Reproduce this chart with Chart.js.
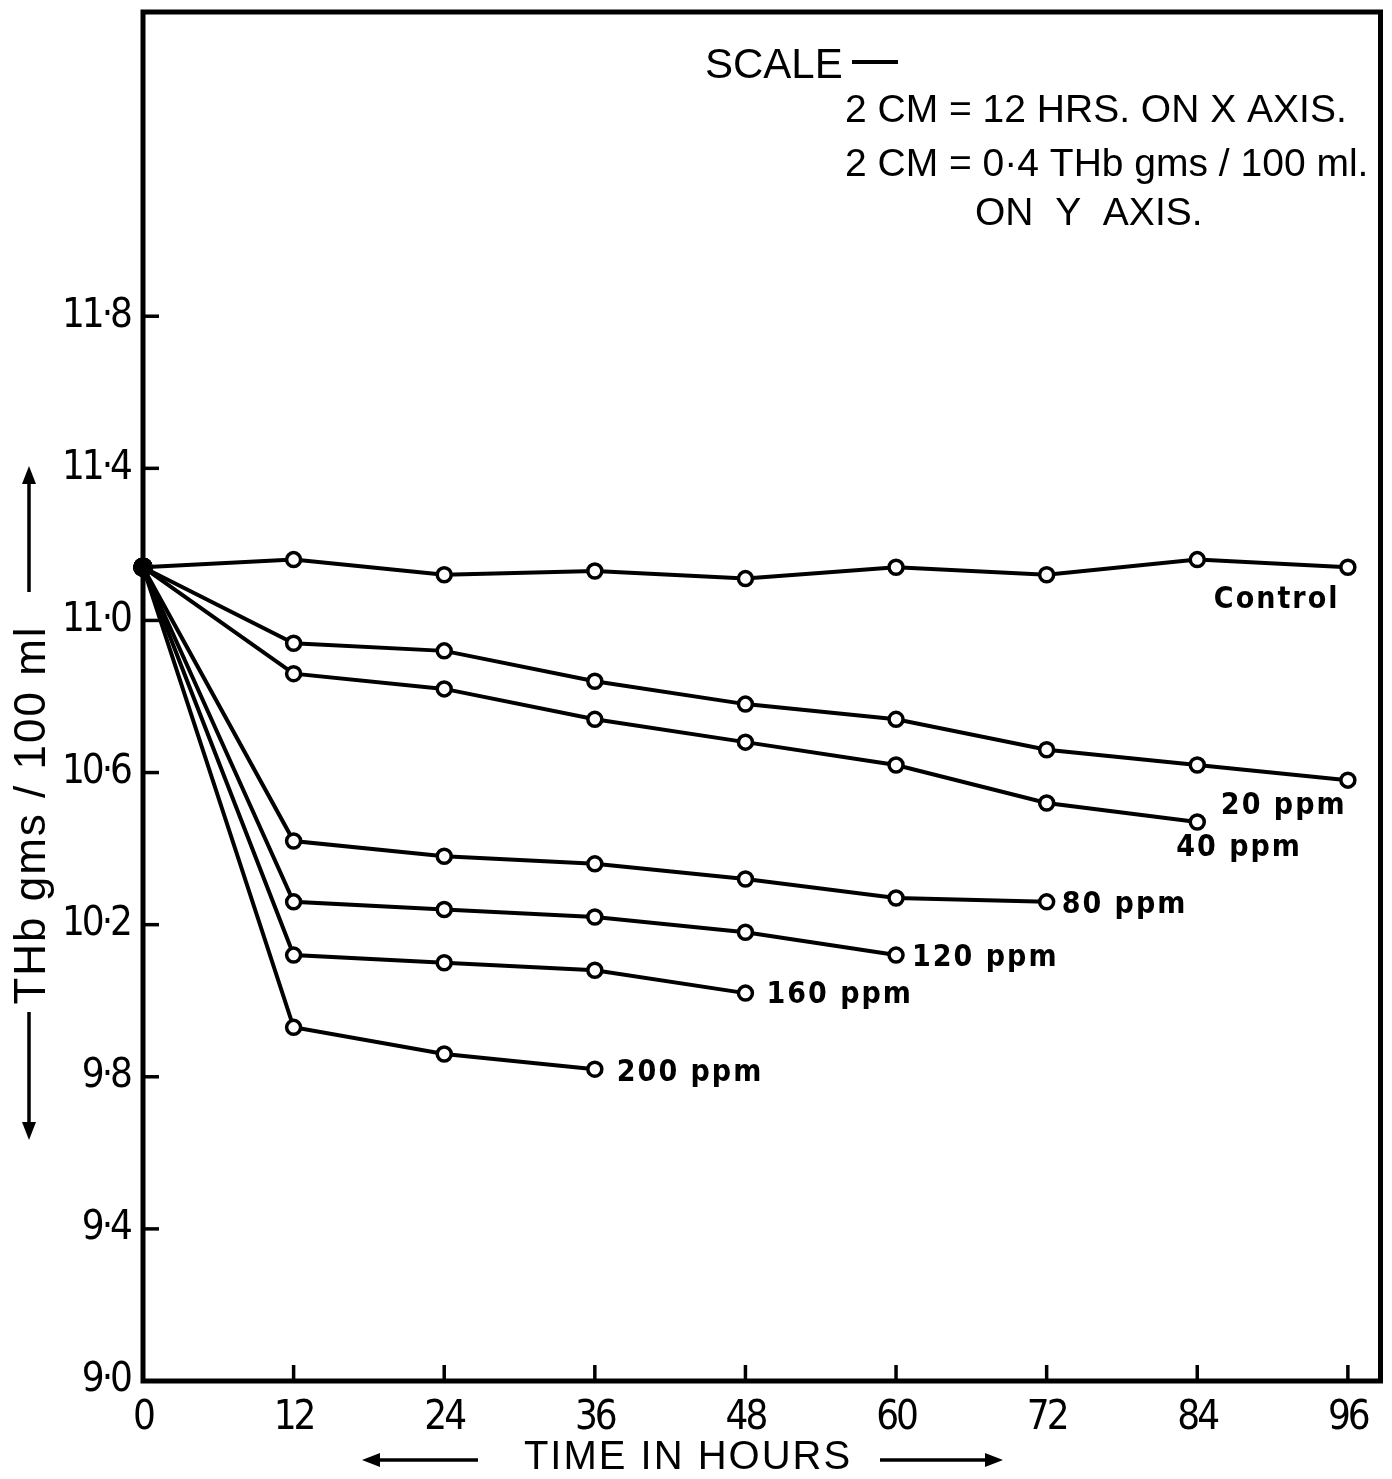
<!DOCTYPE html>
<html>
<head>
<meta charset="utf-8">
<script src="https://cdn.jsdelivr.net/npm/chart.js@4.4.1/dist/chart.umd.min.js"></script>
<style>
  html, body { margin: 0; padding: 0; background: #fff; }
  #wrap { width: 1392px; height: 1479px; }
</style>
</head>
<body>
<div id="wrap"><canvas id="chart" width="1392" height="1479"></canvas></div>
<script>
// time axis (hours)
const hours = [0, 12, 24, 36, 48, 60, 72, 84, 96];
const xTickValues = [0, 12, 24, 36, 48, 60, 72, 84, 96];
const xTickLabels = ['0', '12', '24', '36', '48', '60', '72', '84', '96'];
const yTickValues = [9.0, 9.4, 9.8, 10.2, 10.6, 11.0, 11.4, 11.8];
const yTickLabels = ['9·0', '9·4', '9·8', '10·2', '10·6', '11·0', '11·4', '11·8'];

// THb gms / 100 ml
const control = [11.14, 11.16, 11.12, 11.13, 11.11, 11.14, 11.12, 11.16, 11.14];
const ppm20 = [11.14, 10.94, 10.92, 10.84, 10.78, 10.74, 10.66, 10.62, 10.58];
const ppm40 = [11.14, 10.86, 10.82, 10.74, 10.68, 10.62, 10.52, 10.47];
const ppm80 = [11.14, 10.42, 10.38, 10.36, 10.32, 10.27, 10.26];
const ppm120 = [11.14, 10.26, 10.24, 10.22, 10.18, 10.12];
const ppm160 = [11.14, 10.12, 10.10, 10.08, 10.02];
const ppm200 = [11.14, 9.93, 9.86, 9.82];

const seriesNames = ['Control', '20 ppm', '40 ppm', '80 ppm', '120 ppm', '160 ppm', '200 ppm'];
const seriesValues = [control, ppm20, ppm40, ppm80, ppm120, ppm160, ppm200];

const NARROW = '"DejaVu Sans Condensed", "Liberation Sans Narrow", sans-serif';
const SANS = '"Liberation Sans", "DejaVu Sans", sans-serif';

// where each end label sits relative to the last point of its line
const labelOffsets = {
  'Control': [-134, 33],
  '20 ppm': [-127, 26],
  '40 ppm': [-21, 26],
  '80 ppm': [15, 3],
  '120 ppm': [16, 3],
  '160 ppm': [21, 2],
  '200 ppm': [22, 4]
};

function arrow(ctx, x1, y1, x2, y2) {
  const ang = Math.atan2(y2 - y1, x2 - x1);
  const len = 18, half = 7;
  ctx.beginPath();
  ctx.moveTo(x1, y1);
  ctx.lineTo(x2 - Math.cos(ang) * len * 0.8, y2 - Math.sin(ang) * len * 0.8);
  ctx.stroke();
  ctx.beginPath();
  ctx.moveTo(x2, y2);
  ctx.lineTo(x2 - Math.cos(ang) * len - Math.sin(ang) * half, y2 - Math.sin(ang) * len + Math.cos(ang) * half);
  ctx.lineTo(x2 - Math.cos(ang) * len + Math.sin(ang) * half, y2 - Math.sin(ang) * len - Math.cos(ang) * half);
  ctx.closePath();
  ctx.fill();
}

const framePlugin = {
  id: 'frame',
  beforeDraw(chart) {
    // tighten the tick digits a little, like the drawn lettering
    chart.ctx.letterSpacing = '-3px';
  },
  beforeDatasetsDraw(chart) {
    chart.ctx.letterSpacing = '0px';
  },
  afterDatasetsDraw(chart) {
    const { ctx, chartArea: a, scales } = chart;
    ctx.save();
    ctx.strokeStyle = '#000';
    ctx.fillStyle = '#000';
    ctx.lineWidth = 5;
    ctx.strokeRect(a.left, a.top, a.right - a.left, a.bottom - a.top);

    // inward tick marks
    ctx.lineWidth = 3.5;
    scales.y.ticks.forEach(t => {
      const y = scales.y.getPixelForValue(t.value);
      ctx.beginPath(); ctx.moveTo(a.left, y); ctx.lineTo(a.left + 16, y); ctx.stroke();
    });
    scales.x.ticks.forEach(t => {
      if (t.value === 0) return;
      const x = scales.x.getPixelForValue(t.value);
      ctx.beginPath(); ctx.moveTo(x, a.bottom); ctx.lineTo(x, a.bottom - 16); ctx.stroke();
    });

    // line end labels
    ctx.font = 'bold 30px ' + NARROW;
    ctx.letterSpacing = '2px';
    ctx.textBaseline = 'middle';
    ctx.textAlign = 'left';
    chart.data.datasets.forEach((ds, i) => {
      const meta = chart.getDatasetMeta(i);
      const last = meta.data[meta.data.length - 1];
      const off = labelOffsets[ds.label];
      ctx.fillText(ds.label, last.x + off[0], last.y + off[1]);
    });

    // scale note
    ctx.letterSpacing = '0px';
    ctx.textBaseline = 'alphabetic';
    ctx.font = '42px ' + SANS;
    ctx.fillText('SCALE', 705, 78);
    ctx.lineWidth = 4;
    ctx.beginPath(); ctx.moveTo(852, 62); ctx.lineTo(898, 62); ctx.stroke();
    ctx.font = '39px ' + SANS;
    ctx.fillText('2 CM = 12 HRS. ON X AXIS.', 845, 122);
    ctx.fillText('2 CM = 0·4 THb gms / 100 ml.', 845, 176);
    ctx.fillText('ON  Y  AXIS.', 975, 225);

    // axis titles with arrows
    ctx.lineWidth = 3.5;
    ctx.font = '40px ' + SANS;
    ctx.letterSpacing = '2px';
    ctx.textAlign = 'center';
    ctx.textBaseline = 'middle';
    ctx.fillText('TIME IN HOURS', 688, 1458);
    arrow(ctx, 478, 1460, 362, 1460);
    arrow(ctx, 880, 1460, 1003, 1460);

    ctx.save();
    ctx.translate(33, 815);
    ctx.rotate(-Math.PI / 2);
    ctx.font = '44px ' + SANS;
    ctx.letterSpacing = '2px';
    ctx.fillText('THb gms / 100 ml', 0, 0);
    ctx.restore();
    arrow(ctx, 29, 592, 29, 466);
    arrow(ctx, 29, 1012, 29, 1140);
    ctx.restore();
  }
};

const datasets = seriesNames.map((name, i) => ({
  label: name,
  data: seriesValues[i].map((v, j) => ({ x: hours[j], y: v })),
  borderColor: '#000',
  borderWidth: 4,
  pointRadius: ctx => ctx.dataIndex === 0 ? 8 : 7,
  pointBorderWidth: 3.5,
  pointBorderColor: '#000',
  pointBackgroundColor: ctx => ctx.dataIndex === 0 ? '#000' : '#fff',
  showLine: true,
  tension: 0,
  clip: false
}));

new Chart(document.getElementById('chart').getContext('2d'), {
  type: 'scatter',
  data: { datasets },
  options: {
    responsive: false,
    animation: false,
    events: [],
    layout: { padding: { left: 0, right: 10, top: 12, bottom: 0 } },
    plugins: { legend: { display: false }, tooltip: { enabled: false } },
    scales: {
      x: {
        type: 'linear',
        min: 0,
        max: 98.6,
        afterBuildTicks: s => { s.ticks = xTickValues.map(v => ({ value: v })); },
        afterFit: s => { s.height = 98; s.paddingLeft = 0; s.paddingRight = 0; },
        grid: { display: false },
        border: { display: false },
        ticks: {
          color: '#000',
          padding: 6,
          maxRotation: 0,
          font: { family: NARROW, size: 40 },
          callback: (v, i) => xTickLabels[i]
        }
      },
      y: {
        type: 'linear',
        min: 9.0,
        max: 12.6,
        afterBuildTicks: s => { s.ticks = yTickValues.map(v => ({ value: v })); },
        afterFit: s => { s.width = 143; s.paddingTop = 0; s.paddingBottom = 0; },
        grid: { display: false },
        border: { display: false },
        ticks: {
          color: '#000',
          padding: 5,
          font: { family: NARROW, size: 40 },
          callback: (v, i) => yTickLabels[i]
        }
      }
    }
  },
  plugins: [framePlugin]
});
</script>
</body>
</html>
